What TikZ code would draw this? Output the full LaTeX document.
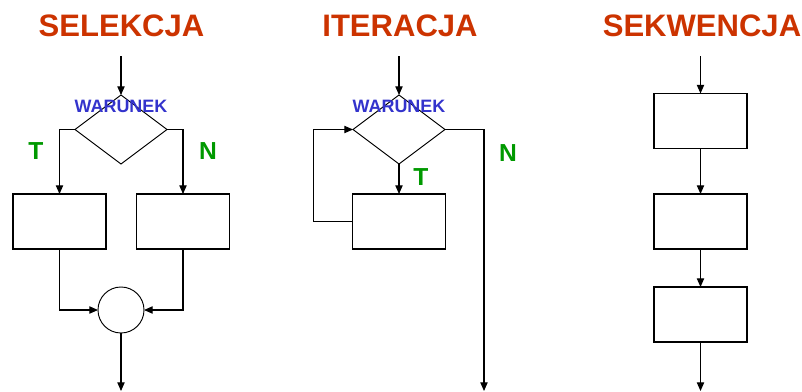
\documentclass[tikz,border=0pt]{standalone}
\usepackage{fontspec}
\setmainfont{Liberation Sans}
\usepackage{xcolor}
\usetikzlibrary{positioning, arrows.meta, shapes.geometric}

\definecolor{titlered}{HTML}{CC3300}
\definecolor{condblue}{HTML}{3333CC}
\definecolor{branchgreen}{HTML}{009900}

\begin{document}
\begin{tikzpicture}[
    x=0.03cm, y=-0.03cm,
    line width=0.9pt,
    box/.style={rectangle, draw, minimum width=2.79cm, minimum height=1.65cm, inner sep=0pt, outer sep=0pt},
    cond/.style={diamond, draw, line width=0.8pt, minimum width=2.76cm, minimum height=2.07cm, inner sep=0pt, outer sep=0pt},
    joint/.style={circle, draw, line width=0.8pt, minimum size=1.38cm, inner sep=0pt, outer sep=0pt},
    arrow/.style={-{Triangle[length=2.6mm, width=2.2mm]}},
    title/.style={font=\fontsize{26.5}{30}\selectfont\bfseries, text=titlered},
    condlabel/.style={font=\fontsize{15.3}{18}\selectfont\bfseries, text=condblue},
    branch/.style={font=\fontsize{21}{24}\selectfont\bfseries, text=branchgreen},
]
\useasboundingbox (0,0) rectangle (802,392);

% Titles
\node[title] (t-sel) at (121.5,25.5) {SELEKCJA};
\node[title] (t-ite) at (400,25.5) {ITERACJA};
\node[title] (t-seq) at (702,25.5) {SEKWENCJA};

% Selection
\coordinate (s-in) at (121,56);
\node[cond] (s-cond) at (121,129.5) {};
\node[condlabel] (s-cond-txt) at (121,106) {WARUNEK};
\node[box] (s-yes) at (59.5,221.5) {};
\node[box] (s-no) at (183,221.5) {};
\node[joint] (s-join) at (121,310) {};
\coordinate (s-out) at (121,391);
\node[branch] (s-t) at (36,151) {T};
\node[branch] (s-n) at (208,151) {N};

\draw[arrow] (s-in) -- (s-cond.north);
\draw[arrow] (s-cond.west) -| (s-yes.north);
\draw[arrow] (s-cond.east) -| (s-no.north);
\draw[arrow] (s-yes.south) |- (s-join.west);
\draw[arrow] (s-no.south) |- (s-join.east);
\draw[arrow] (s-join.south) -- (s-out);

% Iteration
\coordinate (i-in) at (399,56);
\node[cond] (i-cond) at (399,129.5) {};
\node[condlabel] (i-cond-txt) at (399,106) {WARUNEK};
\node[box] (i-body) at (399,221.5) {};
\coordinate (i-out) at (484,391);
\node[branch] (i-t) at (421,177) {T};
\node[branch] (i-n) at (508,153) {N};

\draw[arrow] (i-in) -- (i-cond.north);
\draw[arrow] (i-cond.south) -- (i-body.north);
\draw[arrow] (i-body.west) -- ++(-39,0) |- (i-cond.west);
\draw[arrow] (i-cond.east) -| (i-out);

% Sequence
\coordinate (q-in) at (700.5,56);
\node[box] (q-1) at (700.5,121) {};
\node[box] (q-2) at (700.5,221.5) {};
\node[box] (q-3) at (700.5,314.5) {};
\coordinate (q-out) at (700.5,391);

\draw[arrow] (q-in) -- (q-1.north);
\draw[arrow] (q-1) -- (q-2);
\draw[arrow] (q-2) -- (q-3);
\draw[arrow] (q-3.south) -- (q-out);

\end{tikzpicture}
\end{document}
